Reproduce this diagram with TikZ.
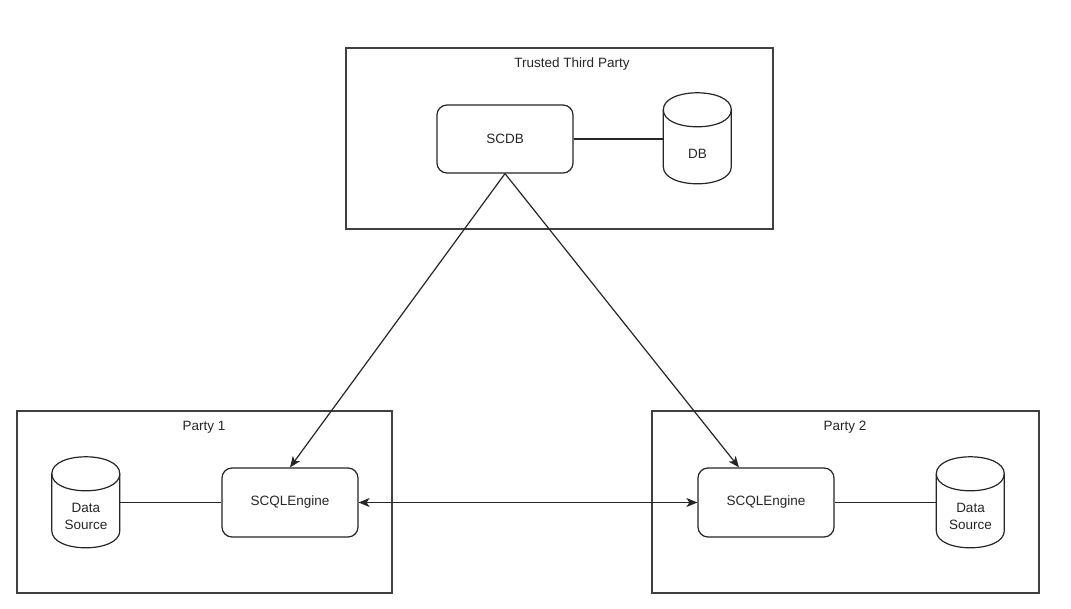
\documentclass[tikz,border=0pt]{standalone}
\usepackage{fontspec}
\setmainfont{Liberation Sans}
\usetikzlibrary{arrows.meta}
\newcommand\drawcyl[1]{%
  \begin{scope}[shift={(#1.north west)}]
    \draw[cyl] (0,17) .. controls (0,-5.67) and (68,-5.67) .. (68,17)
      -- (68,74) .. controls (68,96.67) and (0,96.67) .. (0,74) -- cycle;
    \draw[cyl] (68,17) .. controls (68,39.67) and (0,39.67) .. (0,17);
  \end{scope}}
\begin{document}
\begin{tikzpicture}[x=1pt,y=-1pt,
  every node/.style={font=\fontsize{13.5}{17}\selectfont, text=black!85},
  frame/.style={draw=black!75, line width=1.2pt, inner sep=0pt},
  title/.style={inner sep=0pt},
  proc/.style={draw=black!85, rounded corners=10pt, line width=1.2pt, minimum width=136pt, minimum height=69pt, inner sep=0pt},
  store/.style={rectangle, minimum width=68pt, minimum height=91pt, inner sep=0pt},
  cyl/.style={draw=black!85, line width=1.2pt},
  storetext/.style={align=center, inner sep=0pt},
  link/.style={draw=black!85, line width=1.2pt},
  arr/.style={link, -{Stealth[length=11pt,width=9pt,inset=3pt]}},
  darr/.style={link, {Stealth[length=11pt,width=9pt,inset=3pt]}-{Stealth[length=11pt,width=9pt,inset=3pt]}},
]
\useasboundingbox (0,0) rectangle (1071,609);
\fill[white] (0,0) rectangle (1071,609);
% frames
\node[frame, minimum width=427pt, minimum height=181pt] (ttp) at (559.5,138.5) {};
\node[frame, minimum width=375pt, minimum height=182pt] (p1) at (204.5,502) {};
\node[frame, minimum width=387pt, minimum height=182pt] (p2) at (845.5,502) {};
\node[title] (ttpt) at (572,64) {Trusted Third Party};
\node[title] (p1t) at (204,427) {Party 1};
\node[title] (p2t) at (845,427) {Party 2};
% nodes
\node[proc, minimum height=68pt] (scdb) at (505,139) {SCDB};
\node[store] (db) at (697.5,138.5) {};
\drawcyl{db}
\node[storetext] (dbt) at ([yshift=-15pt]db.center) {DB};
\node[proc] (eng1) at (290,502.5) {SCQLEngine};
\node[proc] (eng2) at (766,502.5) {SCQLEngine};
\node[store] (ds1) at (86,502.5) {};
\drawcyl{ds1}
\node[storetext] (ds1t) at ([yshift=-14pt]ds1.center) {Data\\Source};
\node[store] (ds2) at (970.5,502.5) {};
\drawcyl{ds2}
\node[storetext] (ds2t) at ([yshift=-14pt]ds2.center) {Data\\Source};
\coordinate (e2in) at ([xshift=-27pt]eng2.north);
% connectors
\draw[link] (scdb.east) -- (scdb.east -| db.west);
\draw[link] (ds1.east) -- (eng1.west);
\draw[link] (eng2.east) -- (ds2.west);
\draw[arr] (scdb.south) -- (eng1.north);
\draw[arr] (scdb.south) -- (e2in);
\draw[darr] (eng1.east) -- (eng2.west);
\end{tikzpicture}
\end{document}
